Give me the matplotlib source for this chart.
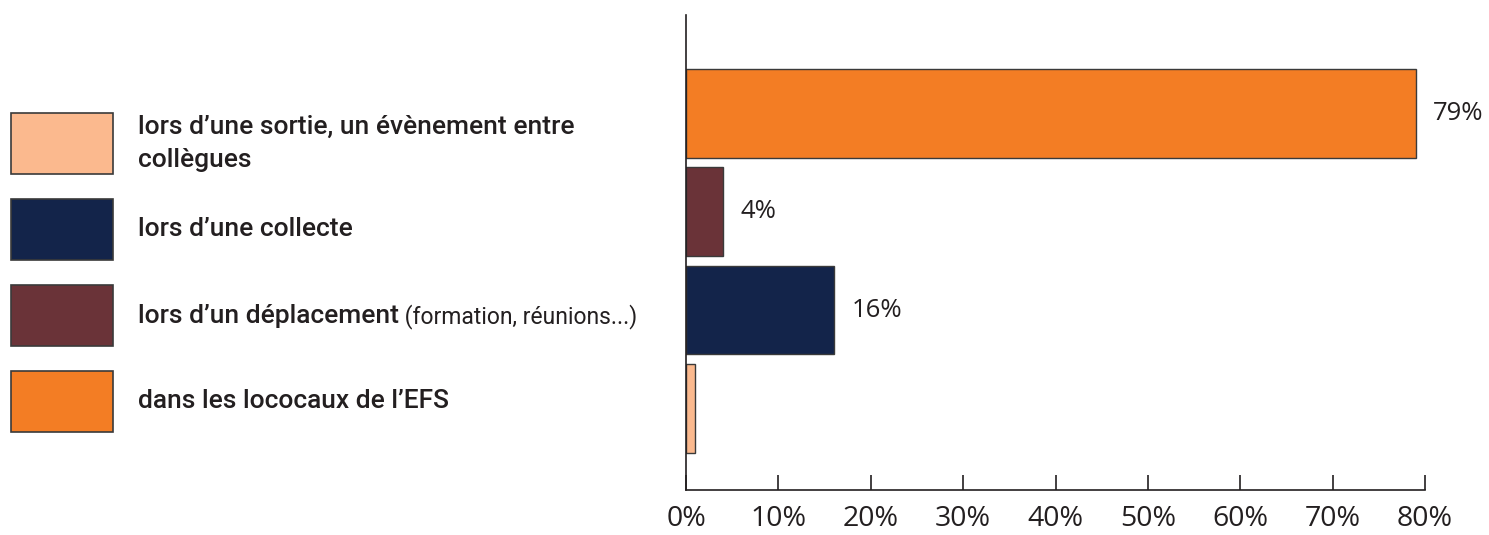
import matplotlib
matplotlib.use("Agg")
import matplotlib.pyplot as plt
from matplotlib.patches import Rectangle

categories = [
    "lors d\u2019une sortie, un évènement entre\ncollègues",
    "lors d\u2019une collecte",
    "lors d\u2019un déplacement",
    "dans les lococaux de l\u2019EFS",
]
category_notes = ["", "", " (formation, réunions...)", ""]
values = [1, 16, 4, 79]          # percent
colors = ["#FBB98E", "#13244A", "#6A3338", "#F37D24"]
xticks = [0, 10, 20, 30, 40, 50, 60, 70, 80]
xtick_labels = [f"{v}%" for v in xticks]

plt.rcParams["font.family"] = ["Open Sans", "DejaVu Sans"]
legend_font = ["Roboto", "DejaVu Sans"]

W, H = 1489, 535
fig = plt.figure(figsize=(W / 100, H / 100), dpi=100)
ax = fig.add_axes([686 / W, 1 - 490 / H, (1425 - 686) / W, (490 - 15) / H])

# bars: peach bottom (y=0), navy, maroon, orange top
ypos = [0, 1, 2, 3]
ax.barh(ypos, values, height=0.9, color=colors, edgecolor="#3a3a3a", linewidth=1.0)
for y, v in zip(ypos, values):
    if v >= 2:
        ax.text(v + 1.9, y, f"{v}%", va="center", ha="left", fontsize=18.5,
                color="#231f20")

ax.set_xlim(0, 80)
ax.set_ylim(-0.83, 4.0)
ax.set_xticks(xticks)
ax.set_xticklabels(xtick_labels, fontsize=20.5, color="#231f20")
ax.tick_params(axis="x", direction="in", length=11, width=1.2, pad=11, color="#231f20")
ax.set_yticks([])
for s in ["top", "right"]:
    ax.spines[s].set_visible(False)
for s in ["left", "bottom"]:
    ax.spines[s].set_linewidth(1.2)
    ax.spines[s].set_color("#231f20")

# legend (manual, figure coords)
box_tops = [113, 199, 285, 371]
for i, top in enumerate(box_tops):
    fig.patches.append(Rectangle((11 / W, 1 - (top + 61) / H), 102 / W, 61 / H,
                                 transform=fig.transFigure, facecolor=colors[i],
                                 edgecolor="#3a3a3a", linewidth=1.2))
    cy = 1 - (top + 30.5) / H
    t = fig.text(138 / W, cy, categories[i], va="center", ha="left",
                 fontsize=19, family=legend_font, weight="medium",
                 color="#231f20", linespacing=1.45)
    if category_notes[i]:
        fig.canvas.draw()
        bb = t.get_window_extent()
        fig.text(bb.x1 / W, cy - 1 / H, category_notes[i], va="center", ha="left",
                 fontsize=16.5, family=legend_font, color="#231f20")

fig.savefig("out.png", dpi=100)
